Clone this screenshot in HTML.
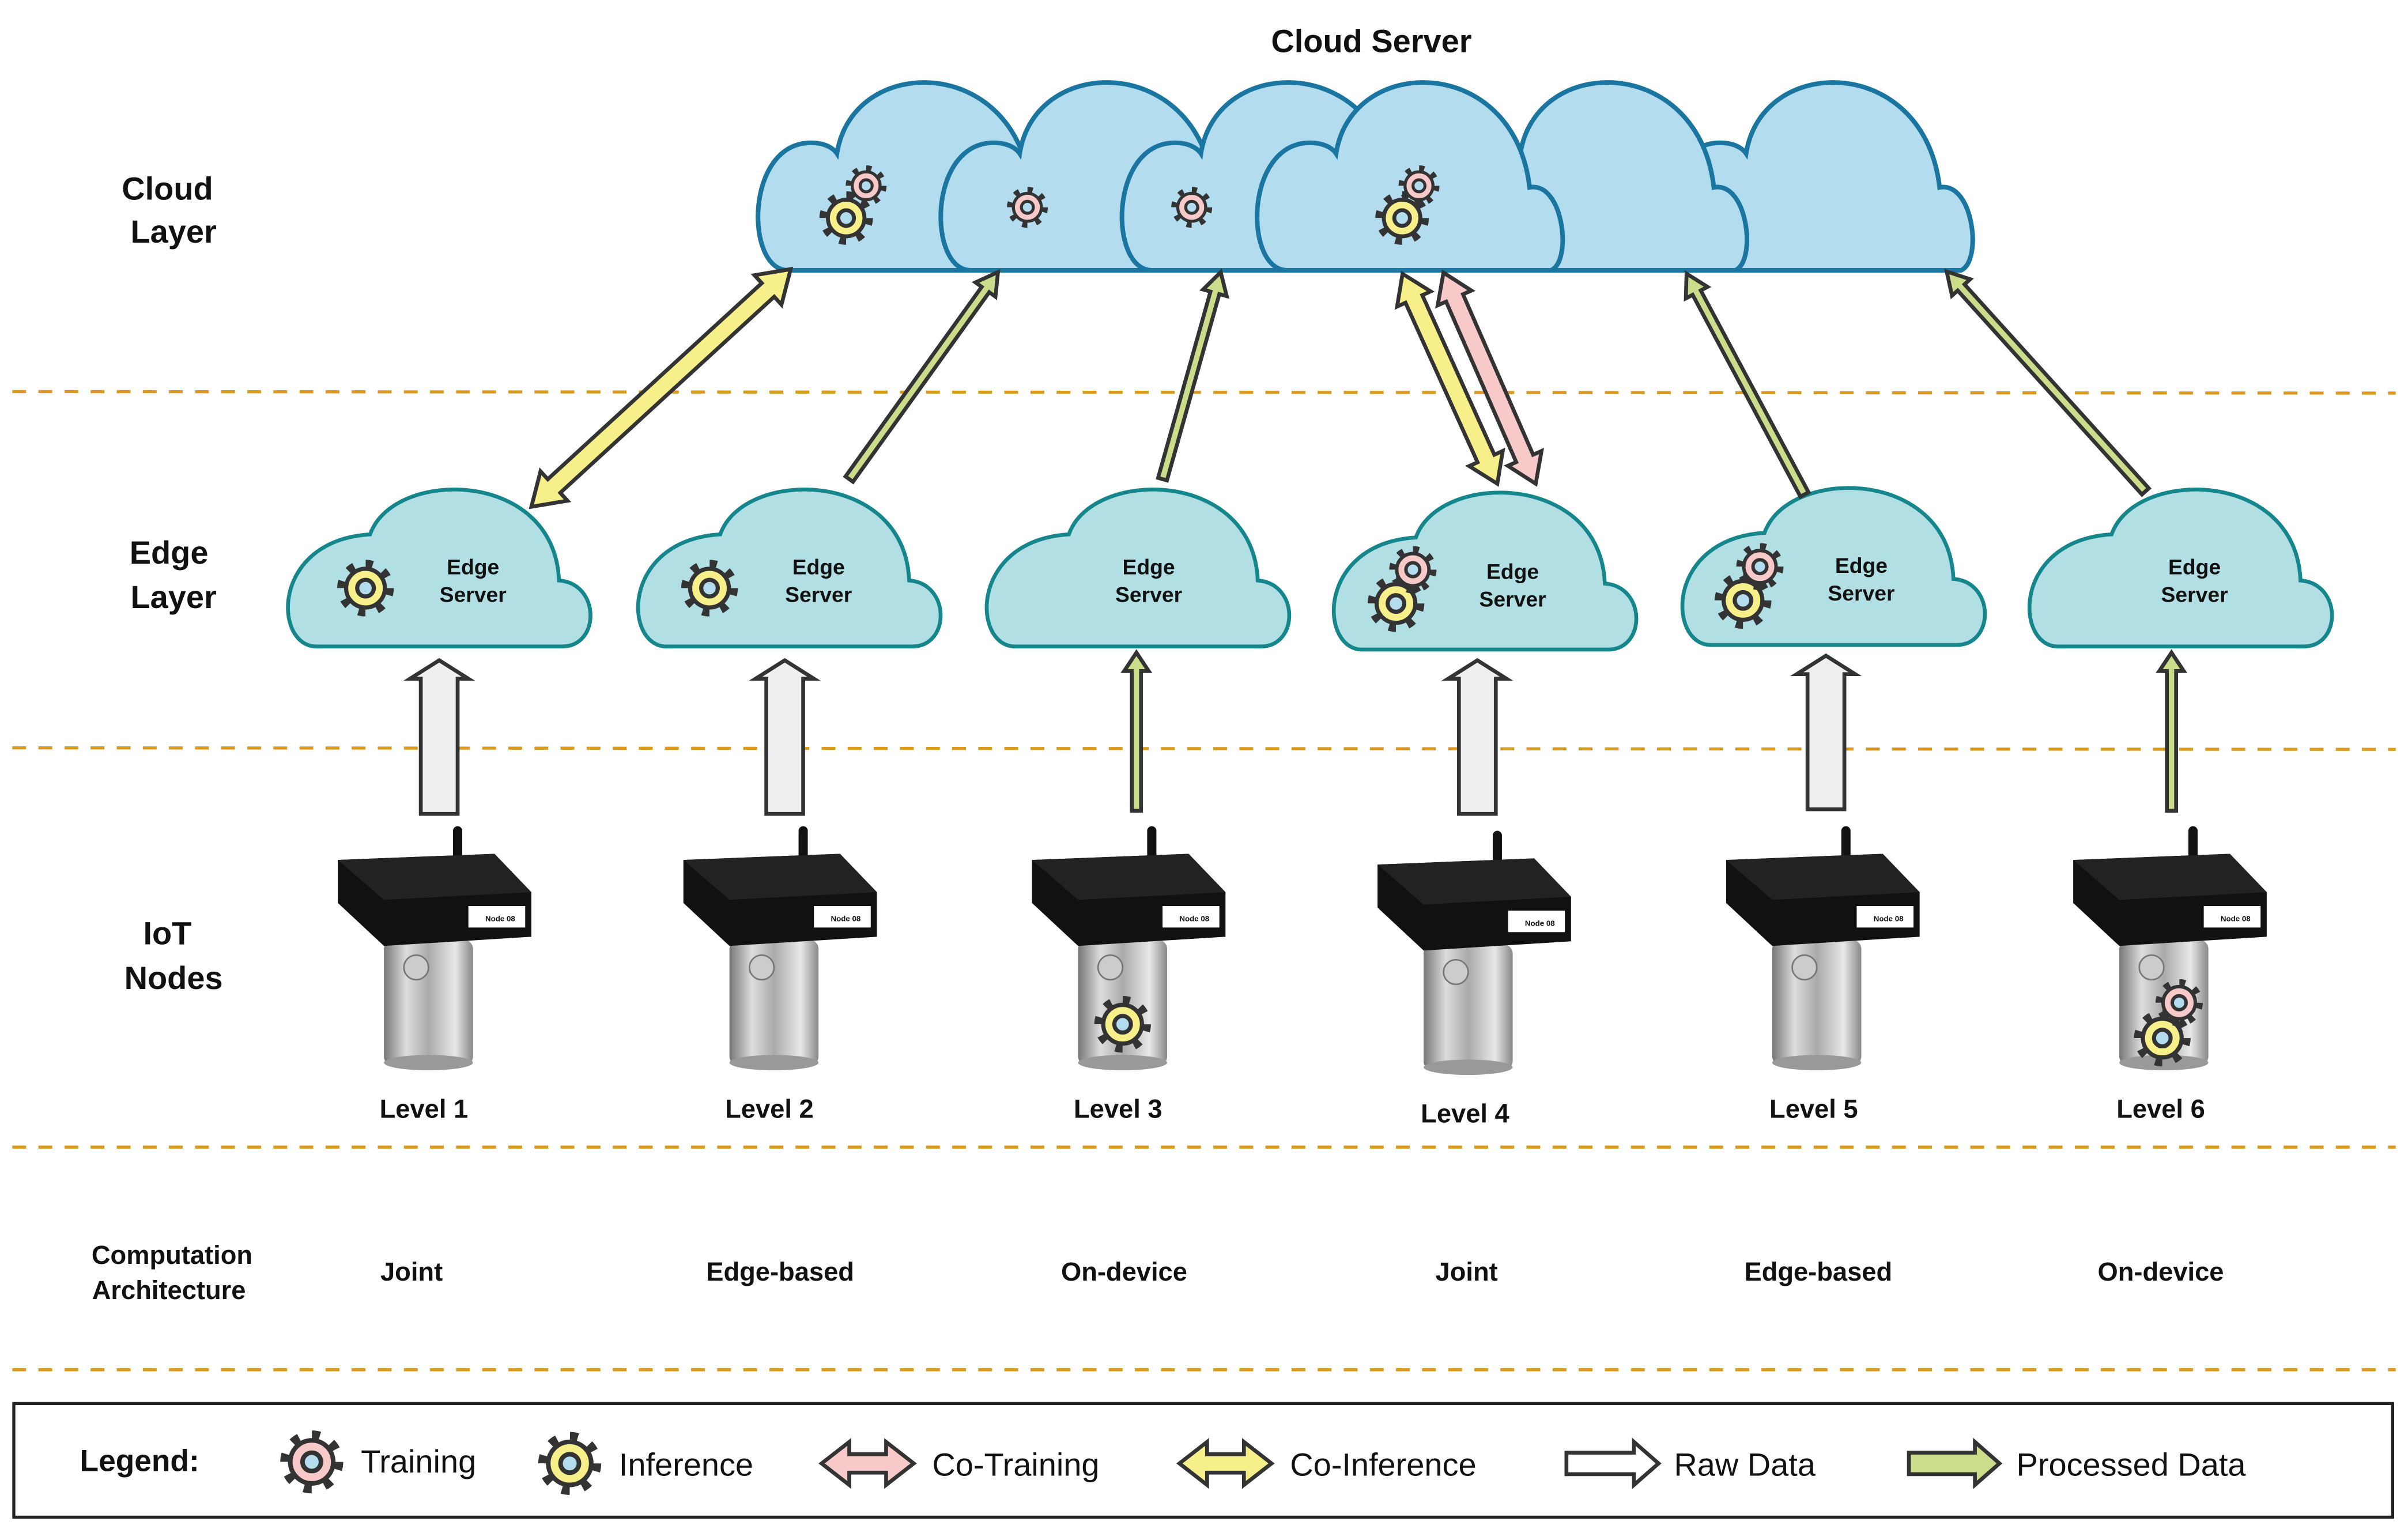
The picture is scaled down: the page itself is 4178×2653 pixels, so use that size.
<!DOCTYPE html>
<html><head><meta charset="utf-8"><style>
html,body{margin:0;padding:0;background:#fff;}
svg{display:block;}
text{font-family:"Liberation Sans",Arial,sans-serif;fill:#111;}
.b{font-weight:bold;}
</style></head><body>
<svg width="4178" height="2653" viewBox="0 0 1568 995.7" preserveAspectRatio="none" xmlns="http://www.w3.org/2000/svg">
<defs>
<g id="gp">
<circle r="17" fill="none" stroke="#333" stroke-width="7" stroke-dasharray="5 8.35"/>
<circle r="14" fill="#f7c9c9" stroke="#333" stroke-width="3"/>
<circle r="6" fill="#b3dcef" stroke="#333" stroke-width="3"/>
</g>
<g id="gy">
<circle r="17" fill="none" stroke="#333" stroke-width="7" stroke-dasharray="5 8.35"/>
<circle r="14" fill="#f7f08a" stroke="#333" stroke-width="3"/>
<circle r="6" fill="#b3dcef" stroke="#333" stroke-width="3"/>
</g>
<linearGradient id="cyl" x1="0" x2="1" y1="0" y2="0">
<stop offset="0" stop-color="#777"/><stop offset="0.25" stop-color="#ddd"/><stop offset="0.5" stop-color="#aaa"/><stop offset="0.8" stop-color="#e8e8e8"/><stop offset="1" stop-color="#888"/>
</linearGradient>
<g id="dev">
<rect x="295" y="538" width="6" height="24" rx="3" fill="#111"/>
<rect x="250" y="612" width="58" height="82" rx="6" fill="url(#cyl)"/>
<ellipse cx="279" cy="692" rx="29" ry="5" fill="#999"/>
<polygon points="220,560 322,556 346,581 346,610 250,616 220,588" fill="#111"/>
<polygon points="220,560 322,556 346,581 250,586" fill="#222"/>
<rect x="305" y="590" width="37" height="14" fill="#fff"/>
<text x="316" y="600" font-size="5" class="b">Node 08</text>
<circle cx="271" cy="630" r="8" fill="#ccc" stroke="#777"/>
</g>
</defs>

<!-- dashed lines -->
<g stroke="#d99a1e" stroke-width="2" stroke-dasharray="9 8">
<line x1="8" y1="255" x2="1560" y2="256"/>
<line x1="8" y1="487" x2="1560" y2="488"/>
<line x1="8" y1="747" x2="1560" y2="747"/>
<line x1="8" y1="892" x2="1560" y2="892"/>
</g>

<!-- left labels -->
<g class="b" font-size="21" text-anchor="middle">
<text x="109" y="130" class="b">Cloud</text><text x="113" y="158" class="b">Layer</text>
<text x="110" y="367" class="b">Edge</text><text x="113" y="396" class="b">Layer</text>
<text x="109" y="615" class="b">IoT</text><text x="113" y="644" class="b">Nodes</text>
</g>
<g font-size="17" text-anchor="middle">
<text x="112" y="823" class="b">Computation</text><text x="110" y="846" class="b">Architecture</text>
</g>
<text x="893" y="34" font-size="21" text-anchor="middle" class="b">Cloud Server</text>

<!-- big cloud -->
<g fill="#b3dcef" stroke="#1a75a0" stroke-width="3">
<path transform="translate(493,0)" d="M20,176 C-8,176 -8,93 35,93 C45,93 50,97 52,100 C62,35 168,35 178,122 C200,118 206,170 192,176 Z"/>
<path transform="translate(612,0)" d="M20,176 C-8,176 -8,93 35,93 C45,93 50,97 52,100 C62,35 168,35 178,122 C200,118 206,170 192,176 Z"/>
<path transform="translate(730,0)" d="M20,176 C-8,176 -8,93 35,93 C45,93 50,97 52,100 C62,35 168,35 178,122 C200,118 206,170 192,176 Z"/>
<path transform="translate(1085,0)" d="M20,176 C-8,176 -8,93 35,93 C45,93 50,97 52,100 C62,35 168,35 178,122 C200,118 206,170 192,176 Z"/>
<path transform="translate(938,0)" d="M20,176 C-8,176 -8,93 35,93 C45,93 50,97 52,100 C62,35 168,35 178,122 C200,118 206,170 192,176 Z"/>
<path transform="translate(818,0)" d="M20,176 C-8,176 -8,93 35,93 C45,93 50,97 52,100 C62,35 168,35 178,122 C200,118 206,170 192,176 Z"/>
</g>
<use href="#gy" transform="translate(551,142) scale(0.85)"/>
<use href="#gp" transform="translate(564,121) scale(0.65)"/>
<use href="#gp" transform="translate(669,135) scale(0.65)"/>
<use href="#gp" transform="translate(776,135) scale(0.65)"/>
<use href="#gy" transform="translate(913,142) scale(0.85)"/>
<use href="#gp" transform="translate(924,121) scale(0.65)"/>

<!-- edge clouds -->
<g fill="#b2dfe3" stroke="#14868c" stroke-width="2.5">
<path id="ec" transform="translate(186,0)" d="M20,421 C-8,421 -10,352 55,348 C70,305 175,305 178,378 C205,380 205,421 180,421 Z"/>
<path transform="translate(414,0)" d="M20,421 C-8,421 -10,352 55,348 C70,305 175,305 178,378 C205,380 205,421 180,421 Z"/>
<path transform="translate(641,0)" d="M20,421 C-8,421 -10,352 55,348 C70,305 175,305 178,378 C205,380 205,421 180,421 Z"/>
<path transform="translate(867,2)" d="M20,421 C-8,421 -10,352 55,348 C70,305 175,305 178,378 C205,380 205,421 180,421 Z"/>
<path transform="translate(1094,-1)" d="M20,421 C-8,421 -10,352 55,348 C70,305 175,305 178,378 C205,380 205,421 180,421 Z"/>
<path transform="translate(1320,0)" d="M20,421 C-8,421 -10,352 55,348 C70,305 175,305 178,378 C205,380 205,421 180,421 Z"/>
</g>
<g font-size="14" text-anchor="middle">
<text x="308" y="374" class="b">Edge</text><text x="308" y="392" class="b">Server</text>
<text x="533" y="374" class="b">Edge</text><text x="533" y="392" class="b">Server</text>
<text x="748" y="374" class="b">Edge</text><text x="748" y="392" class="b">Server</text>
<text x="985" y="377" class="b">Edge</text><text x="985" y="395" class="b">Server</text>
<text x="1212" y="373" class="b">Edge</text><text x="1212" y="391" class="b">Server</text>
<text x="1429" y="374" class="b">Edge</text><text x="1429" y="392" class="b">Server</text>
</g>
<use href="#gy" transform="translate(238,383) scale(0.9)"/>
<use href="#gy" transform="translate(462,383) scale(0.9)"/>
<use href="#gy" transform="translate(909,393) scale(0.9)"/>
<use href="#gp" transform="translate(920,371) scale(0.75)"/>
<use href="#gy" transform="translate(1135,391) scale(0.9)"/>
<use href="#gp" transform="translate(1146,369) scale(0.75)"/>

<!-- cloud-edge arrows -->
<g stroke="#333" stroke-width="2.5" stroke-linejoin="miter">
<path transform="translate(346,330) rotate(-42.5)" fill="#f7f08a" d="M0,0 L20,-13 L20,-6 L209,-6 L209,-13 L229,0 L209,13 L209,6 L20,6 L20,13 Z"/>
<path transform="translate(553,312) rotate(-54.3)" fill="#c9dd8b" d="M0,-3 L152,-3 L152,-8 L166,0 L152,8 L152,3 L0,3 Z"/>
<path transform="translate(757,312) rotate(-74.3)" fill="#c9dd8b" d="M0,-3 L126,-3 L126,-8 L140,0 L126,8 L126,3 L0,3 Z"/>
<path transform="translate(975,315) rotate(-114.3)" fill="#f7f08a" d="M0,0 L18,-12 L18,-6 L132,-6 L132,-12 L150,0 L132,12 L132,6 L18,6 L18,12 Z"/>
<path transform="translate(1000,315) rotate(-113.6)" fill="#f7c9c9" d="M0,0 L18,-12 L18,-6 L132,-6 L132,-12 L150,0 L132,12 L132,6 L18,6 L18,12 Z"/>
<path transform="translate(1175,322) rotate(-118.1)" fill="#c9dd8b" d="M0,-3 L149,-3 L149,-8 L163,0 L149,8 L149,3 L0,3 Z"/>
<path transform="translate(1397,320) rotate(-132.1)" fill="#c9dd8b" d="M0,-3 L179,-3 L179,-8 L193,0 L179,8 L179,3 L0,3 Z"/>

<!-- iot-edge arrows -->
<path transform="translate(286,530) rotate(-90)" fill="#eeeff0" d="M0,-12 L88,-12 L88,-19 L100,0 L88,19 L88,12 L0,12 Z"/>
<path transform="translate(511,530) rotate(-90)" fill="#eeeff0" d="M0,-12 L88,-12 L88,-19 L100,0 L88,19 L88,12 L0,12 Z"/>
<path transform="translate(962,530) rotate(-90)" fill="#eeeff0" d="M0,-12 L88,-12 L88,-19 L100,0 L88,19 L88,12 L0,12 Z"/>
<path transform="translate(1189,527) rotate(-90)" fill="#eeeff0" d="M0,-12 L88,-12 L88,-19 L100,0 L88,19 L88,12 L0,12 Z"/>
<path transform="translate(740,528) rotate(-90)" fill="#c9dd8b" d="M0,-3 L91,-3 L91,-8 L103,0 L91,8 L91,3 L0,3 Z"/>
<path transform="translate(1414,528) rotate(-90)" fill="#c9dd8b" d="M0,-3 L91,-3 L91,-8 L103,0 L91,8 L91,3 L0,3 Z"/>
</g>

<!-- devices -->
<use href="#dev"/>
<use href="#dev" transform="translate(225,0)"/>
<use href="#dev" transform="translate(452,0)"/>
<use href="#dev" transform="translate(677,3)"/>
<use href="#dev" transform="translate(904,0)"/>
<use href="#dev" transform="translate(1130,0)"/>
<use href="#gy" transform="translate(731,667) scale(0.9)"/>
<use href="#gy" transform="translate(1408,676) scale(0.9)"/>
<use href="#gp" transform="translate(1419,653) scale(0.75)"/>

<g font-size="17" text-anchor="middle">
<text x="276" y="728" class="b">Level 1</text>
<text x="501" y="728" class="b">Level 2</text>
<text x="728" y="728" class="b">Level 3</text>
<text x="954" y="731" class="b">Level 4</text>
<text x="1181" y="728" class="b">Level 5</text>
<text x="1407" y="728" class="b">Level 6</text>
<text x="268" y="834" class="b">Joint</text>
<text x="508" y="834" class="b">Edge-based</text>
<text x="732" y="834" class="b">On-device</text>
<text x="955" y="834" class="b">Joint</text>
<text x="1184" y="834" class="b">Edge-based</text>
<text x="1407" y="834" class="b">On-device</text>
</g>

<!-- legend -->
<rect x="9" y="914" width="1549" height="74" fill="none" stroke="#222" stroke-width="2"/>
<text x="52" y="958" font-size="20" class="b">Legend:</text>
<use href="#gp" transform="translate(203,952)"/>
<text x="235" y="959" font-size="21">Training</text>
<use href="#gy" transform="translate(371,953)"/>
<text x="403" y="961" font-size="21">Inference</text>
<g stroke="#333" stroke-width="2.5">
<path transform="translate(535,953)" fill="#f7c9c9" d="M0,0 L18,-14 L18,-6 L42,-6 L42,-14 L60,0 L42,14 L42,6 L18,6 L18,14 Z"/>
<path transform="translate(768,953)" fill="#f7f08a" d="M0,0 L18,-14 L18,-6 L42,-6 L42,-14 L60,0 L42,14 L42,6 L18,6 L18,14 Z"/>
<path transform="translate(1020,953)" fill="#fff" d="M0,-7 L44,-7 L44,-14 L60,0 L44,14 L44,7 L0,7 Z"/>
<path transform="translate(1243,953)" fill="#c9dd8b" d="M0,-7 L43,-7 L43,-14 L59,0 L43,14 L43,7 L0,7 Z"/>
</g>
<text x="607" y="961" font-size="21">Co-Training</text>
<text x="840" y="961" font-size="21">Co-Inference</text>
<text x="1090" y="961" font-size="21">Raw Data</text>
<text x="1313" y="961" font-size="21">Processed Data</text>
</svg>
</body></html>
